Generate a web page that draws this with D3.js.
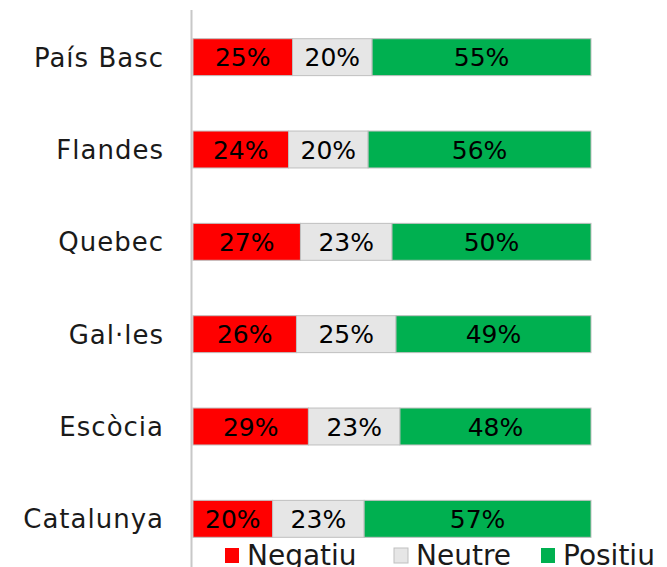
<!DOCTYPE html>
<html><head><meta charset="utf-8">
<script src="https://cdn.jsdelivr.net/npm/d3@7"></script>
<style>body{margin:0;background:#fff}svg{display:block}</style>
</head><body>
<svg id="c" width="667" height="567"></svg>
<script>
const categories = ["País Basc","Flandes","Quebec","Gal·les","Escòcia","Catalunya"];
const seriesNames = ["Negatiu","Neutre","Positiu"];
const negatiu = [25,24,27,26,29,20];
const neutre  = [20,20,23,25,23,23];
const positiu = [55,56,50,49,48,57];
const colors = ["#ff0000","#e6e6e6","#00b050"];

const rows = categories.map((c,i)=>({cat:c, Negatiu:negatiu[i], Neutre:neutre[i], Positiu:positiu[i]}));
const stack = d3.stack().keys(seriesNames)(rows);

const svg = d3.select("#c");
const font = "'DejaVu Sans', sans-serif";
const x = d3.scaleLinear().domain([0,100]).range([193,591]);
const y = d3.scaleBand().domain(categories).range([11,565]).paddingInner(0.6).paddingOuter(0.3);

// axis line
svg.append("line").attr("x1",191.5).attr("x2",191.5).attr("y1",10).attr("y2",567)
  .attr("stroke","#c8c8c8").attr("stroke-width",2);

const g = svg.append("g");
stack.forEach((s,si)=>{
  g.selectAll(null).data(s).enter().append("rect")
    .attr("x",d=>x(d[0])).attr("width",d=>x(d[1])-x(d[0]))
    .attr("y",d=>y(d.data.cat)).attr("height",y.bandwidth())
    .attr("fill",colors[si]).attr("stroke","#bfbfbf").attr("stroke-width",1);
  g.selectAll(null).data(s).enter().append("text")
    .attr("x",d=>(x(d[0])+x(d[1]))/2).attr("y",d=>y(d.data.cat)+y.bandwidth()/2)
    .attr("dy","0.36em").attr("text-anchor","middle")
    .attr("font-family",font).attr("font-size",25).attr("fill","#000")
    .text(d=>(d[1]-d[0])+"%");
});

// category labels
svg.selectAll(null).data(categories).enter().append("text")
  .attr("x",164).attr("y",d=>y(d)+y.bandwidth()/2).attr("dy","0.36em")
  .attr("text-anchor","end").attr("font-family",font).attr("font-size",26)
  .attr("letter-spacing",1).attr("fill","#1a1a1a")
  .text(d=>d);

// legend
const legX = [225,394,541];
const lg = svg.append("g");
seriesNames.forEach((n,i)=>{
  lg.append("rect").attr("x",legX[i]).attr("y",548).attr("width",14).attr("height",15)
    .attr("fill",colors[i]).attr("stroke", i===1?"#bfbfbf":"none");
  lg.append("text").attr("x",legX[i]+22).attr("y",565)
    .attr("font-family",font).attr("font-size",28).attr("fill","#1a1a1a").text(n);
});
</script>
</body></html>
